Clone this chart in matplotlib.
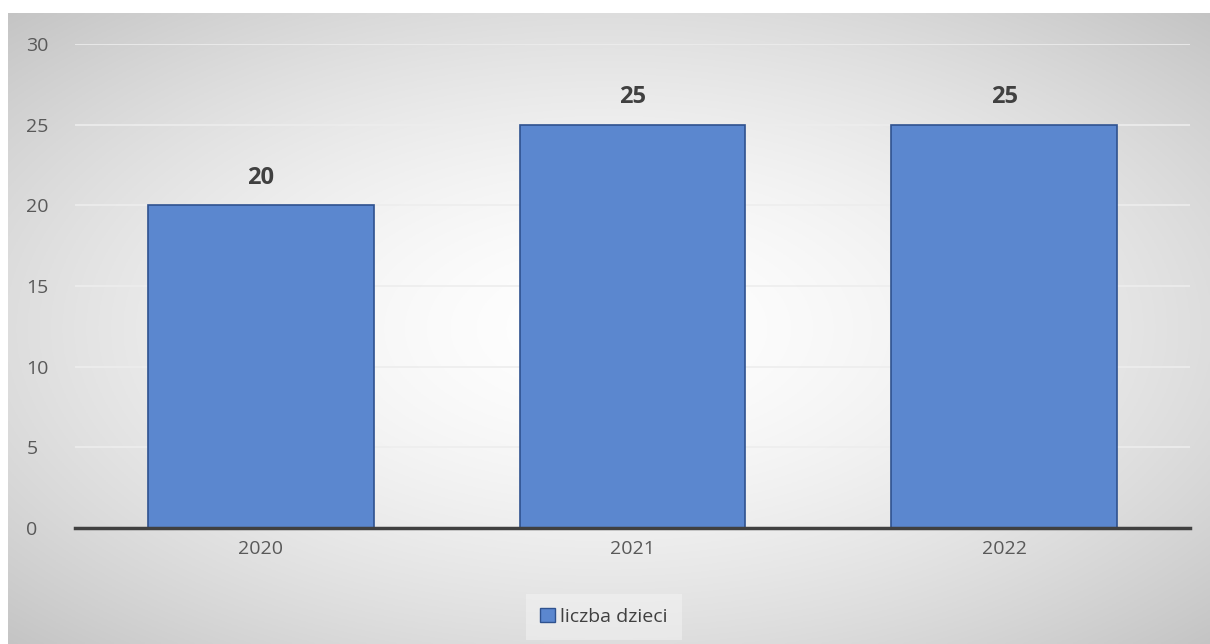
import numpy as np
import matplotlib.pyplot as plt
from matplotlib.patches import Patch

# chart data
years = ["2020", "2021", "2022"]
liczba_dzieci = [20, 25, 25]
y_ticks = [0, 5, 10, 15, 20, 25, 30]

W, H = 1210, 644
fig = plt.figure(figsize=(W / 100, H / 100), dpi=100)
fig.patch.set_facecolor("white")

# radial gradient background (white centre, grey edges)
bg = fig.add_axes([8 / W, 0, 1 - 8 / W, (H - 13) / H])
bg.set_axis_off()
yy, xx = np.mgrid[-1:1:300j, -1:1:600j]
r = np.sqrt(xx ** 2 + yy ** 2) / np.sqrt(2)
shade = 1.0 - 0.23 * np.clip(r, 0, 1) ** 1.6
bg.imshow(np.dstack([shade] * 3), aspect="auto", extent=[0, 1, 0, 1])
bg.set_xlim(0, 1)
bg.set_ylim(0, 1)

ax = fig.add_axes([75 / W, (H - 528) / H, (1190 - 75) / W, (528 - 44) / H])
ax.patch.set_alpha(0)

x = np.arange(len(years))
bars = ax.bar(x, liczba_dzieci, width=0.607, color="#5B87CF",
              edgecolor="#2F528F", linewidth=1.2, zorder=3)

for b, v in zip(bars, liczba_dzieci):
    ax.annotate(str(v), (b.get_x() + b.get_width() / 2, v),
                xytext=(0, 11), textcoords="offset points",
                ha="center", va="bottom", fontsize=17, fontweight="bold",
                color="#404040", family="Open Sans")

ax.set_xlim(-0.5, len(years) - 0.5)
ax.set_ylim(0, 30)
ax.set_yticks(y_ticks)
ax.set_xticks(x)
ax.set_xticklabels(years)
ax.grid(axis="y", color="#EDEDED", linewidth=1.2, zorder=0)
for s in ["top", "right", "left"]:
    ax.spines[s].set_visible(False)
ax.spines["bottom"].set_color("#404040")
ax.spines["bottom"].set_linewidth(2.5)
ax.spines["bottom"].set_zorder(4)
ax.tick_params(length=0, labelsize=14, labelcolor="#595959")
ax.tick_params(axis="x", pad=9)
ax.tick_params(axis="y", pad=35)
for lab in ax.get_yticklabels():
    lab.set_family("Open Sans")
    lab.set_horizontalalignment("left")
for lab in ax.get_xticklabels():
    lab.set_family("Open Sans")

leg = fig.legend(handles=[Patch(facecolor="#5B87CF", edgecolor="#2F528F", label="liczba dzieci")],
                 loc="center", bbox_to_anchor=(604 / W, (H - 617) / H),
                 frameon=True, fancybox=False, handlelength=0.75, handleheight=0.75,
                 handletextpad=0.3, borderpad=0.7,
                 prop={"family": "Open Sans", "size": 14})
leg.get_frame().set_facecolor("#F4F4F4")
leg.get_frame().set_edgecolor("none")
leg.get_frame().set_alpha(0.5)
for t in leg.get_texts():
    t.set_color("#404040")

fig.savefig("out.png", dpi=100)
